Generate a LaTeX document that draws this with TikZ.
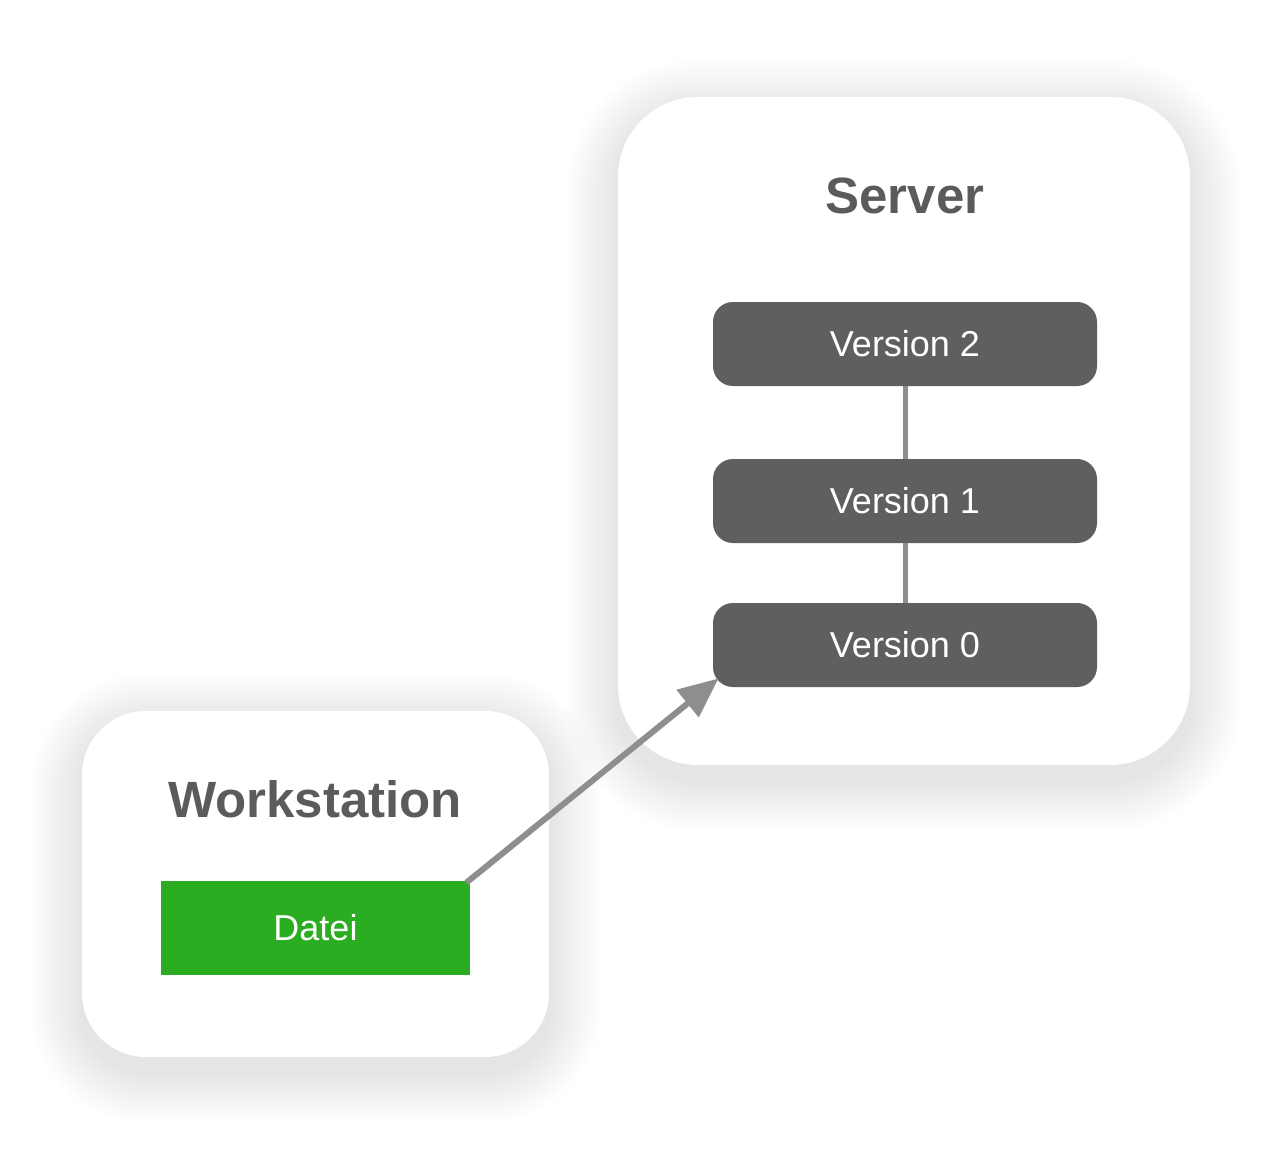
\documentclass[tikz,border=0pt]{standalone}
\usepackage{fontspec}
\setmainfont{Liberation Sans}
\usetikzlibrary{arrows.meta,backgrounds}
\definecolor{txtgray}{HTML}{5B5B5B}
\definecolor{vboxgray}{HTML}{5F5F5F}
\definecolor{linegray}{HTML}{8E8E8E}
\definecolor{fileGreen}{HTML}{2AAD20}
\tikzset{
  panel/.style={fill=white, draw=none, inner sep=0pt},
  paneltitle/.style={text=txtgray, font=\fontsize{25.5}{30}\selectfont\bfseries},
  versionbox/.style={fill=vboxgray, rounded corners=10pt, minimum width=192pt, minimum height=42pt, inner sep=0pt, text=white, font=\fontsize{18}{22}\selectfont},
  filebox/.style={fill=fileGreen, minimum width=154.5pt, minimum height=47pt, inner sep=0pt, text=white, font=\fontsize{18}{22}\selectfont},
  link/.style={draw=linegray, line width=2.5pt},
  push/.style={draw=linegray, line width=3pt, -{Triangle[length=20pt,width=17pt]}},
}
\begin{document}
\begin{tikzpicture}[x=0.5pt,y=-0.5pt]
\useasboundingbox (0,0) rectangle (1282,1152);
% panels
\node[panel, rounded corners=40pt, minimum width=286pt, minimum height=334pt] (server) at (904,431) {};
\node[panel, rounded corners=32pt, minimum width=233.5pt, minimum height=173pt] (ws) at (315.5,884) {};
% shadows
\begin{pgfonlayer}{background}
\foreach \i in {1,...,26}{
  \pgfmathsetmacro\rr{40+\i}
  \pgfmathsetmacro\dd{2*\i}
  \fill[black, opacity=0.0055, rounded corners=\rr pt]
    ([shift={(-\dd,-\dd+14)}]server.north west) rectangle ([shift={(\dd,\dd+14)}]server.south east);
  \pgfmathsetmacro\rw{32+\i}
  \fill[black, opacity=0.0055, rounded corners=\rw pt]
    ([shift={(-\dd,-\dd+14)}]ws.north west) rectangle ([shift={(\dd,\dd+14)}]ws.south east);
}
\end{pgfonlayer}
% titles
\node[paneltitle] (stitle) at (905,196) {Server};
\node[paneltitle] (wtitle) at (315,799) {Workstation};
% versions
\node[versionbox] (v2) at (905,344) {Version 2};
\node[versionbox] (v1) at (905,501) {Version 1};
\node[versionbox] (v0) at (905,645) {Version 0};
\draw[link] (v2.south) -- (v1.north);
\draw[link] (v1.south) -- (v0.north);
% file
\node[filebox] (datei) at (315.5,928) {Datei};
\draw[push] ([shift={(-4,2)}]datei.north east) -- ([shift={(6,-9)}]v0.south west);
\end{tikzpicture}
\end{document}
